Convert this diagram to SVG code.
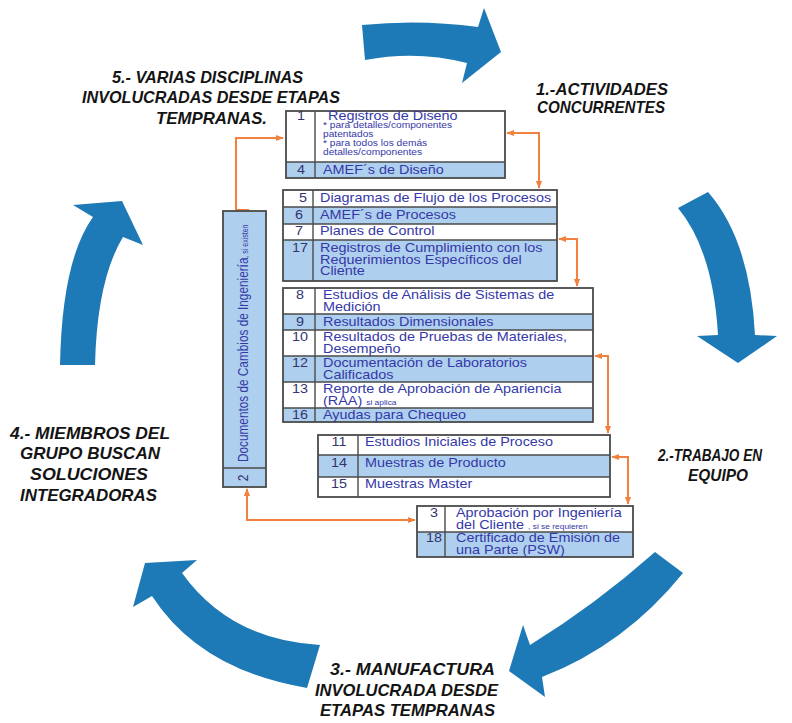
<svg xmlns="http://www.w3.org/2000/svg" width="792" height="723" viewBox="0 0 792 723">
<defs>
<style>
.cycle{fill:#1d7ab6}
.lbl{font-family:"Liberation Sans",Arial,sans-serif;font-weight:bold;font-style:italic;font-size:16.5px;fill:#141414}
.frame{fill:none;stroke:#4a4a4a;stroke-width:1.8}
.rowW{fill:#fff}
.rowB{fill:#aecfee}
.sep{stroke:#4a4a4a;stroke-width:1.4}
.t{font-family:"Liberation Sans",Arial,sans-serif;font-size:12px;fill:#3538a8}
.n{font-family:"Liberation Sans",Arial,sans-serif;font-size:12px;fill:#34346e;text-anchor:middle}
.s{font-size:8.5px}
.xs{font-size:7px}
.link{fill:none;stroke:#f2803e;stroke-width:2}
</style>
<marker id="tip" viewBox="0 0 10 10" refX="9" refY="5" markerWidth="4" markerHeight="4" orient="auto-start-reverse"><path d="M0,1 L10,5 L0,9 z" fill="#f2803e"/></marker>
</defs>

<rect width="792" height="723" fill="#fff"/>

<!-- five curved arrows forming the cycle -->
<g id="cycle-arrows">
  <path class="cycle" d="M362,25 Q420,19 478,27 L484,8 L501,52 L462,83 L467,63 Q417,50 365,60 Z"/>
  <path class="cycle" d="M678,208 L708,192 Q750,240 755,335 L777,336 L738,363 L697,336 L718,335 Q713,250 678,208 Z"/>
  <path class="cycle" d="M655,552 L683,573 Q625,645 542,677 L545,697 L509,671 L523,625 L530,645 Q595,605 655,552 Z"/>
  <path class="cycle" d="M145,563 L197,560 L182,573 Q230,640 320,645 L307,688 Q200,670 152,596 L133,607 Z"/>
  <path class="cycle" d="M122,201 L143,245 L123,237 Q97,280 95,365 L60,365 Q62,260 93,217 L73,205 Z"/>
</g>

<!-- stage labels -->
<g id="stage-labels">
  <text class="lbl" x="112" y="83" textLength="191" lengthAdjust="spacingAndGlyphs">5.- VARIAS DISCIPLINAS</text>
  <text class="lbl" x="82" y="103" textLength="258" lengthAdjust="spacingAndGlyphs">INVOLUCRADAS DESDE ETAPAS</text>
  <text class="lbl" x="156" y="124" textLength="111" lengthAdjust="spacingAndGlyphs">TEMPRANAS.</text>
  <text class="lbl" x="536" y="95" textLength="132" lengthAdjust="spacingAndGlyphs">1.-ACTIVIDADES</text>
  <text class="lbl" x="537" y="113" textLength="128" lengthAdjust="spacingAndGlyphs">CONCURRENTES</text>
  <text class="lbl" x="658" y="461" textLength="104" lengthAdjust="spacingAndGlyphs">2.-TRABAJO EN</text>
  <text class="lbl" x="688" y="481" textLength="60" lengthAdjust="spacingAndGlyphs">EQUIPO</text>
  <text class="lbl" x="330" y="675" textLength="165" lengthAdjust="spacingAndGlyphs">3.- MANUFACTURA</text>
  <text class="lbl" x="315" y="696" textLength="183" lengthAdjust="spacingAndGlyphs">INVOLUCRADA DESDE</text>
  <text class="lbl" x="320" y="716" textLength="175" lengthAdjust="spacingAndGlyphs">ETAPAS TEMPRANAS</text>
  <text class="lbl" x="10" y="439" textLength="160" lengthAdjust="spacingAndGlyphs">4.- MIEMBROS DEL</text>
  <text class="lbl" x="20" y="459" textLength="140" lengthAdjust="spacingAndGlyphs">GRUPO BUSCAN</text>
  <text class="lbl" x="30" y="480" textLength="118" lengthAdjust="spacingAndGlyphs">SOLUCIONES</text>
  <text class="lbl" x="20" y="501" textLength="137" lengthAdjust="spacingAndGlyphs">INTEGRADORAS</text>
</g>

<!-- orange links between the document tables -->
<g id="connectors">
  <path class="link" d="M249,210 H236 V138 H283" marker-end="url(#tip)"/>
  <path class="link" d="M507,133 H539 V188" marker-start="url(#tip)" marker-end="url(#tip)"/>
  <path class="link" d="M559,239 H577 V286" marker-start="url(#tip)" marker-end="url(#tip)"/>
  <path class="link" d="M595,356 H608 V433" marker-start="url(#tip)" marker-end="url(#tip)"/>
  <path class="link" d="M612,457 H628 V504" marker-start="url(#tip)" marker-end="url(#tip)"/>
  <path class="link" d="M415,520 H247 V489" marker-start="url(#tip)" marker-end="url(#tip)"/>
</g>

<!-- table: design records -->
<g id="design">
  <rect class="rowW" x="286" y="111" width="219" height="51"/>
  <rect class="rowB" x="286" y="162" width="219" height="16"/>
  <line class="sep" x1="286" y1="162" x2="505" y2="162"/>
  <line class="sep" x1="315" y1="111" x2="315" y2="178"/>
  <rect class="frame" x="286" y="111" width="219" height="67"/>
  <text class="n" transform="matrix(1.2 0 0 1 301 120)">1</text>
  <text class="t" transform="matrix(1.2 0 0 1 328 120)">Registros de Diseño</text>
  <text class="t s" transform="matrix(1.2 0 0 1 323 128)">* para detalles/componentes</text>
  <text class="t s" transform="matrix(1.2 0 0 1 323 137)">patentados</text>
  <text class="t s" transform="matrix(1.2 0 0 1 323 146)">* para todos los demás</text>
  <text class="t s" transform="matrix(1.2 0 0 1 323 155)">detalles/componentes</text>
  <text class="n" transform="matrix(1.2 0 0 1 301 174)">4</text>
  <text class="t" transform="matrix(1.2 0 0 1 323 174)">AMEF´s de Diseño</text>
</g>

<!-- table: process documents -->
<g id="process">
  <rect class="rowW" x="283" y="190" width="274" height="17"/>
  <rect class="rowB" x="283" y="207" width="274" height="17"/>
  <rect class="rowW" x="283" y="224" width="274" height="16"/>
  <rect class="rowB" x="283" y="240" width="274" height="41"/>
  <line class="sep" x1="283" y1="207" x2="557" y2="207"/>
  <line class="sep" x1="283" y1="224" x2="557" y2="224"/>
  <line class="sep" x1="283" y1="240" x2="557" y2="240"/>
  <line class="sep" x1="313" y1="190" x2="313" y2="281"/>
  <rect class="frame" x="283" y="190" width="274" height="91"/>
  <text class="n" transform="matrix(1.2 0 0 1 303 202)">5</text>
  <text class="t" transform="matrix(1.2 0 0 1 320 202)">Diagramas de Flujo de los Procesos</text>
  <text class="n" transform="matrix(1.2 0 0 1 299 219)">6</text>
  <text class="t" transform="matrix(1.2 0 0 1 320 219)">AMEF´s de Procesos</text>
  <text class="n" transform="matrix(1.2 0 0 1 299 235)">7</text>
  <text class="t" transform="matrix(1.2 0 0 1 320 235)">Planes de Control</text>
  <text class="n" transform="matrix(1.2 0 0 1 300 252)">17</text>
  <text class="t" transform="matrix(1.2 0 0 1 320 252)">Registros de Cumplimiento con los</text>
  <text class="t" transform="matrix(1.2 0 0 1 320 263.5)">Requerimientos Específicos del</text>
  <text class="t" transform="matrix(1.2 0 0 1 320 275)">Cliente</text>
</g>

<!-- table: validation results -->
<g id="validation">
  <rect class="rowW" x="283" y="288" width="310" height="26"/>
  <rect class="rowB" x="283" y="314" width="310" height="16"/>
  <rect class="rowW" x="283" y="330" width="310" height="26"/>
  <rect class="rowB" x="283" y="356" width="310" height="26"/>
  <rect class="rowW" x="283" y="382" width="310" height="26"/>
  <rect class="rowB" x="283" y="408" width="310" height="14"/>
  <line class="sep" x1="283" y1="314" x2="593" y2="314"/>
  <line class="sep" x1="283" y1="330" x2="593" y2="330"/>
  <line class="sep" x1="283" y1="356" x2="593" y2="356"/>
  <line class="sep" x1="283" y1="382" x2="593" y2="382"/>
  <line class="sep" x1="283" y1="408" x2="593" y2="408"/>
  <line class="sep" x1="315" y1="288" x2="315" y2="422"/>
  <rect class="frame" x="283" y="288" width="310" height="134"/>
  <text class="n" transform="matrix(1.2 0 0 1 300 299)">8</text>
  <text class="t" transform="matrix(1.2 0 0 1 323 299)">Estudios de Análisis de Sistemas de</text>
  <text class="t" transform="matrix(1.2 0 0 1 323 310.5)">Medición</text>
  <text class="n" transform="matrix(1.2 0 0 1 300 325.5)">9</text>
  <text class="t" transform="matrix(1.2 0 0 1 323 325.5)">Resultados Dimensionales</text>
  <text class="n" transform="matrix(1.2 0 0 1 300 341)">10</text>
  <text class="t" transform="matrix(1.2 0 0 1 323 341)">Resultados de Pruebas de Materiales,</text>
  <text class="t" transform="matrix(1.2 0 0 1 323 352.5)">Desempeño</text>
  <text class="n" transform="matrix(1.2 0 0 1 300 367)">12</text>
  <text class="t" transform="matrix(1.2 0 0 1 323 367)">Documentación de Laboratorios</text>
  <text class="t" transform="matrix(1.2 0 0 1 323 378.5)">Calificados</text>
  <text class="n" transform="matrix(1.2 0 0 1 300 393)">13</text>
  <text class="t" transform="matrix(1.2 0 0 1 323 393)">Reporte de Aprobación de Apariencia</text>
  <text class="t" transform="matrix(1.2 0 0 1 323 404.5)">(RAA) <tspan class="xs">si aplica</tspan></text>
  <text class="n" transform="matrix(1.2 0 0 1 300 419)">16</text>
  <text class="t" transform="matrix(1.2 0 0 1 323 419)">Ayudas para Chequeo</text>
</g>

<!-- table: samples and initial studies -->
<g id="samples">
  <rect class="rowW" x="318" y="435" width="292" height="20"/>
  <rect class="rowB" x="318" y="455" width="292" height="22"/>
  <rect class="rowW" x="318" y="477" width="292" height="20"/>
  <line class="sep" x1="318" y1="455" x2="610" y2="455"/>
  <line class="sep" x1="318" y1="477" x2="610" y2="477"/>
  <line class="sep" x1="358" y1="435" x2="358" y2="497"/>
  <rect class="frame" x="318" y="435" width="292" height="62"/>
  <text class="n" transform="matrix(1.2 0 0 1 339 446)">11</text>
  <text class="t" transform="matrix(1.2 0 0 1 365 446)">Estudios Iniciales de Proceso</text>
  <text class="n" transform="matrix(1.2 0 0 1 339 467)">14</text>
  <text class="t" transform="matrix(1.2 0 0 1 365 467)">Muestras de Producto</text>
  <text class="n" transform="matrix(1.2 0 0 1 339 488)">15</text>
  <text class="t" transform="matrix(1.2 0 0 1 365 488)">Muestras Master</text>
</g>

<!-- table: customer approval -->
<g id="approval">
  <rect class="rowW" x="417" y="506" width="216" height="26"/>
  <rect class="rowB" x="417" y="532" width="216" height="25"/>
  <line class="sep" x1="417" y1="532" x2="633" y2="532"/>
  <line class="sep" x1="445" y1="506" x2="445" y2="557"/>
  <rect class="frame" x="417" y="506" width="216" height="51"/>
  <text class="n" transform="matrix(1.2 0 0 1 434 517)">3</text>
  <text class="t" transform="matrix(1.2 0 0 1 456 517)">Aprobación por Ingeniería</text>
  <text class="t" transform="matrix(1.2 0 0 1 456 528.5)">del Cliente <tspan class="xs">, si se requieren</tspan></text>
  <text class="n" transform="matrix(1.2 0 0 1 434 542)">18</text>
  <text class="t" transform="matrix(1.2 0 0 1 456 542)">Certificado de Emisión de</text>
  <text class="t" transform="matrix(1.2 0 0 1 456 553.5)">una Parte (PSW)</text>
</g>

<!-- vertical column: engineering change documents -->
<g id="changes">
  <rect class="rowB" x="223" y="211" width="43" height="276"/>
  <line class="sep" x1="223" y1="468" x2="266" y2="468"/>
  <rect class="frame" x="223" y="211" width="43" height="276"/>
  <text class="t" style="font-size:11.8px" transform="translate(248,462) rotate(-90) scale(1,1.25)">Documentos de Cambios de Ingeniería<tspan class="xs">, si existen</tspan></text>
  <text class="n" transform="translate(248,478) rotate(-90) scale(1,1.2)">2</text>
</g>
</svg>
